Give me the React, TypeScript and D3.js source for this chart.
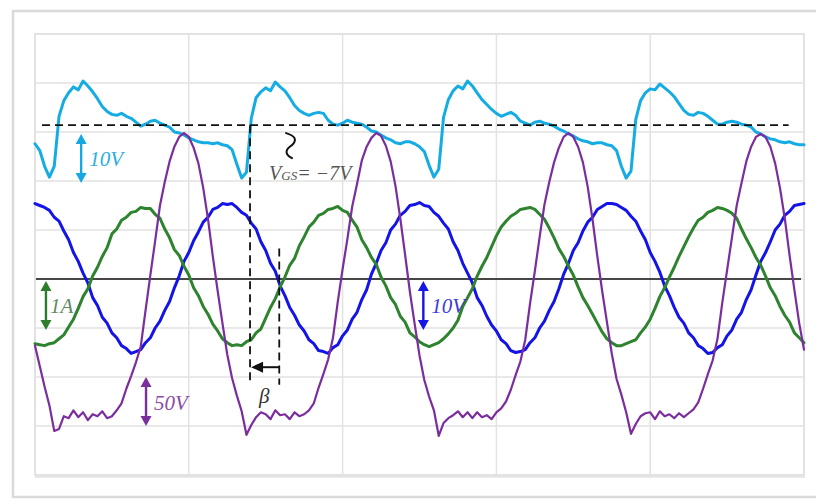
import React from "react";
import * as d3 from "d3";

// Scope capture: 80 ms record, 0.5 ms per sample, 16 ms per horizontal division.
// Vertical levels are screen counts, 50 counts per division, 0 = centre trace line.
const SAMPLE_MS = 0.5;
const SPAN_MS = 80;
const DIV_MS = 16;
const LEVEL_MIN = -200;
const LEVEL_MAX = 250;
const COUNTS_PER_DIV = 50;

// Gate-source voltage (cyan)
const gateVoltage = [
  138, 131, 115, 104, 115, 166, 182, 190, 196, 193, 202, 197, 191, 184, 176, 171, 168, 167, 169, 166,
  164, 160, 156, 158, 161, 162, 159, 157, 155, 150, 149, 147, 144, 142, 140, 139, 139, 138, 139, 137,
  136, 132, 117, 103, 109, 164, 185, 191, 195, 192, 201, 196, 192, 185, 177, 172, 169, 167, 169, 170,
  169, 162, 158, 157, 159, 162, 160, 159, 158, 155, 151, 150, 147, 144, 142, 139, 138, 140, 140, 138,
  135, 130, 116, 104, 112, 165, 183, 192, 197, 194, 202, 197, 190, 183, 178, 173, 169, 166, 168, 170,
  167, 161, 159, 157, 160, 161, 159, 158, 156, 153, 151, 148, 146, 143, 141, 140, 138, 139, 139, 137,
  136, 131, 115, 103, 110, 163, 182, 190, 194, 193, 199, 195, 191, 186, 179, 172, 168, 167, 170, 169,
  166, 162, 158, 158, 160, 161, 160, 158, 157, 155, 150, 148, 145, 143, 142, 140, 139, 140, 138, 137,
  137,
];

// Output voltage (blue)
const outputVoltage = [
  77, 75, 73, 70, 63, 59, 49, 40, 27, 18, 6, -4, -19, -27, -39, -45, -55, -60, -68, -71,
  -76, -74, -72, -65, -60, -50, -43, -32, -23, -9, 3, 18, 27, 39, 48, 58, 63, 71, 73, 77,
  76, 77, 73, 68, 65, 57, 51, 38, 29, 16, 8, -7, -17, -29, -37, -47, -53, -62, -66, -73,
  -74, -76, -70, -67, -58, -52, -41, -34, -21, -11, 5, 16, 29, 37, 50, 56, 65, 69, 75, 76,
  78, 75, 74, 68, 64, 57, 51, 38, 29, 16, 6, -4, -19, -27, -38, -47, -53, -62, -66, -73,
  -75, -74, -72, -65, -60, -50, -43, -32, -23, -10, 5, 16, 29, 37, 49, 58, 63, 71, 74, 77,
  77, 76, 73, 70, 64, 59, 49, 40, 27, 18, 7, -7, -17, -29, -39, -45, -55, -60, -68, -71,
  -76, -75, -70, -67, -58, -52, -41, -34, -21, -11, 4, 18, 27, 38, 50, 56, 65, 69, 75, 76,
  77,
];

// Load current (green)
const loadCurrent = [
  -66, -67, -68, -66, -65, -61, -57, -49, -41, -30, -18, -10, 3, 12, 23, 32, 46, 51, 60, 63,
  68, 69, 73, 72, 72, 66, 62, 51, 42, 30, 24, 13, 4, -9, -17, -28, -36, -46, -53, -61,
  -65, -68, -67, -68, -64, -62, -55, -51, -40, -29, -20, -8, 2, 14, 21, 34, 43, 53, 58, 65,
  67, 71, 72, 74, 70, 68, 60, 53, 40, 32, 22, 15, 2, -7, -19, -26, -38, -44, -55, -59,
  -64, -67, -69, -67, -65, -61, -56, -50, -42, -28, -19, -10, 3, 13, 22, 33, 44, 53, 59, 64,
  67, 71, 72, 73, 71, 66, 61, 52, 42, 31, 23, 13, 4, -8, -19, -27, -36, -45, -54, -61,
  -65, -68, -68, -66, -64, -62, -55, -49, -41, -30, -18, -9, 2, 12, 23, 33, 43, 52, 60, 63,
  68, 70, 73, 72, 70, 67, 62, 51, 41, 32, 22, 14, 3, -9, -17, -28, -37, -44, -55, -60,
  -65,
];

// Drain-source voltage (purple)
const drainVoltage = [
  -68, -89, -110, -129, -155, -153, -140, -142, -134, -141, -136, -144, -138, -140, -135, -142, -140, -134, -127, -112,
  -99, -85, -69, -32, 4, 39, 75, 99, 120, 135, 145, 149, 145, 134, 118, 93, 61, 23, -12, -45,
  -77, -101, -119, -135, -159, -149, -141, -136, -138, -143, -134, -139, -138, -143, -136, -140, -138, -134, -127, -111,
  -97, -82, -60, -23, 10, 41, 74, 97, 121, 135, 144, 149, 146, 136, 120, 95, 62, 25, -13, -46,
  -78, -103, -120, -134, -160, -147, -142, -139, -135, -141, -136, -142, -136, -141, -139, -143, -136, -132, -125, -113,
  -98, -84, -62, -25, 8, 43, 76, 99, 119, 134, 145, 149, 145, 135, 119, 94, 61, 23, -12, -44,
  -76, -102, -118, -136, -158, -148, -140, -137, -136, -143, -135, -140, -138, -142, -137, -141, -137, -133, -126, -112,
  -97, -83, -61, -24, 9, 42, 75, 98, 120, 135, 145, 148, 145, 135, 118, 93, 62, 24, -11, -45,
  -72,
];

// Cursor / reference levels
const GATE_REF_LEVEL = 157; // dashed V_GS = -7 V line
const REF_START_MS = 0.73;
const REF_END_MS = 78.4;
const CURSOR_A_MS = 22.37;
const CURSOR_B_MS = 25.41;
const CURSOR_B_TOP = 31;
const CURSOR_BOTTOM = -108;
const BETA_ARROW_LEVEL = -90;

// Per-channel scale markers (one division each)
const markers = [
  { label: "10V", ms: 4.8, from: 148, to: 98, line: "#16a8e2", text: "#2aaee3" },
  { label: "1A", ms: 1.14, from: -2, to: -52, line: "#2d7d2d", text: "#628a62" },
  { label: "10V", ms: 40.4, from: -2, to: -52, line: "#1515e6", text: "#3b3be2" },
  { label: "50V", ms: 11.55, from: -100, to: -150, line: "#7a2f9c", text: "#8a4ca6" },
];

const W = 816;
const H = 502;
const plot = { left: 35, right: 804, top: 34, bottom: 475 };
const SERIF = "'Liberation Serif', 'DejaVu Serif', serif";

function VArrow({ x, y1, y2, color }: { x: number; y1: number; y2: number; color: string }) {
  const top = Math.min(y1, y2);
  const bot = Math.max(y1, y2);
  const hl = 10;
  const hw = 5.5;
  return (
    <g fill={color} stroke="none">
      <line x1={x} x2={x} y1={top + hl - 1} y2={bot - hl + 1} stroke={color} strokeWidth={2.4} />
      <polygon points={`${x},${top} ${x - hw},${top + hl} ${x + hw},${top + hl}`} />
      <polygon points={`${x},${bot} ${x - hw},${bot - hl} ${x + hw},${bot - hl}`} />
    </g>
  );
}

export default function App() {
  const x = d3.scaleLinear().domain([0, SPAN_MS]).range([plot.left, plot.right]);
  const y = d3.scaleLinear().domain([LEVEL_MIN, LEVEL_MAX]).range([plot.bottom, plot.top]);
  const trace = d3
    .line<number>()
    .x((_, i) => x(i * SAMPLE_MS))
    .y((v) => y(v));

  const vTicks = d3.range(0, SPAN_MS + 0.001, DIV_MS);
  const hTicks = d3.range(LEVEL_MIN, LEVEL_MAX + 0.001, COUNTS_PER_DIV);

  const xa = x(CURSOR_A_MS);
  const xb = x(CURSOR_B_MS);
  const ya = y(BETA_ARROW_LEVEL);

  return (
    <svg
      width={W}
      height={H}
      viewBox={`0 0 ${W} ${H}`}
      style={{ position: "absolute", left: 0, top: 0, background: "#fff" }}
    >
      {/* outer frame */}
      <rect x={13} y={11} width={812} height={486} fill="#fff" stroke="#dadada" strokeWidth={2.5} />

      {/* screen */}
      <rect
        x={plot.left}
        y={plot.top}
        width={plot.right - plot.left}
        height={plot.bottom - plot.top}
        fill="#fff"
        stroke="#dcdcdc"
        strokeWidth={1.5}
      />
      <line x1={plot.left} x2={plot.right + 1} y1={plot.bottom + 1.5} y2={plot.bottom + 1.5} stroke="#e4e4e4" strokeWidth={2.5} />

      {/* grid */}
      <g stroke="#e2e2e2" strokeWidth={1.5}>
        {vTicks.map((t) => (
          <line key={`v${t}`} x1={x(t)} x2={x(t)} y1={plot.top} y2={plot.bottom} />
        ))}
        {hTicks.map((v) => (
          <line key={`h${v}`} x1={plot.left} x2={plot.right} y1={y(v)} y2={y(v)} />
        ))}
      </g>

      {/* centre line */}
      <line x1={plot.left + 1} x2={plot.right - 3} y1={y(0)} y2={y(0)} stroke="#111" strokeWidth={1.4} />

      {/* traces */}
      <g fill="none" strokeLinejoin="round" strokeLinecap="round">
        <path d={trace(gateVoltage) || ""} stroke="#15ace4" strokeWidth={3} />
        <path d={trace(outputVoltage) || ""} stroke="#1414e8" strokeWidth={3} />
        <path d={trace(loadCurrent) || ""} stroke="#2e832e" strokeWidth={3} />
        <path d={trace(drainVoltage) || ""} stroke="#7b2d9e" strokeWidth={2.2} />
      </g>

      {/* reference level and cursors */}
      <g stroke="#111" strokeWidth={1.8} fill="none" strokeDasharray="8 5">
        <line x1={x(REF_START_MS)} x2={x(REF_END_MS)} y1={y(GATE_REF_LEVEL)} y2={y(GATE_REF_LEVEL)} />
        <line x1={xa} x2={xa} y1={y(GATE_REF_LEVEL)} y2={y(CURSOR_BOTTOM)} />
        <line x1={xb} x2={xb} y1={y(CURSOR_B_TOP)} y2={y(CURSOR_BOTTOM)} />
      </g>
      <line x1={xb} x2={xa + 8} y1={ya} y2={ya} stroke="#111" strokeWidth={2} />
      <polygon points={`${xa + 1},${ya} ${xa + 13},${ya - 5.5} ${xa + 13},${ya + 5.5}`} fill="#111" />

      {/* squiggle marker */}
      <path
        d={`M${xa + 36},${y(GATE_REF_LEVEL) + 8} Q${xa + 50},${y(GATE_REF_LEVEL) + 12} ${xa + 42},${y(GATE_REF_LEVEL) + 20} Q${xa + 31},${y(GATE_REF_LEVEL) + 27} ${xa + 42},${y(GATE_REF_LEVEL) + 33}`}
        fill="none"
        stroke="#111"
        strokeWidth={2}
        strokeLinecap="round"
      />

      {/* labels */}
      <text x={xa + 19} y={180} fontFamily={SERIF} fontStyle="italic" fontSize={20} fill="#555">
        <tspan>V</tspan>
        <tspan fontSize={13}>GS</tspan>
        <tspan>= −7V</tspan>
      </text>
      <text x={xa + 9} y={403} fontFamily={SERIF} fontStyle="italic" fontSize={21} fill="#333">
        β
      </text>

      {markers.map((m, i) => {
        const mx = x(m.ms);
        const y1 = y(m.from);
        const y2 = y(m.to);
        return (
          <g key={i}>
            <VArrow x={mx} y1={y1} y2={y2} color={m.line} />
            <text
              x={mx + (m.label === "1A" ? 4 : 8)}
              y={(y1 + y2) / 2 + 8}
              fontFamily={SERIF}
              fontStyle="italic"
              fontSize={21}
              fill={m.text}
            >
              {m.label}
            </text>
          </g>
        );
      })}
    </svg>
  );
}
